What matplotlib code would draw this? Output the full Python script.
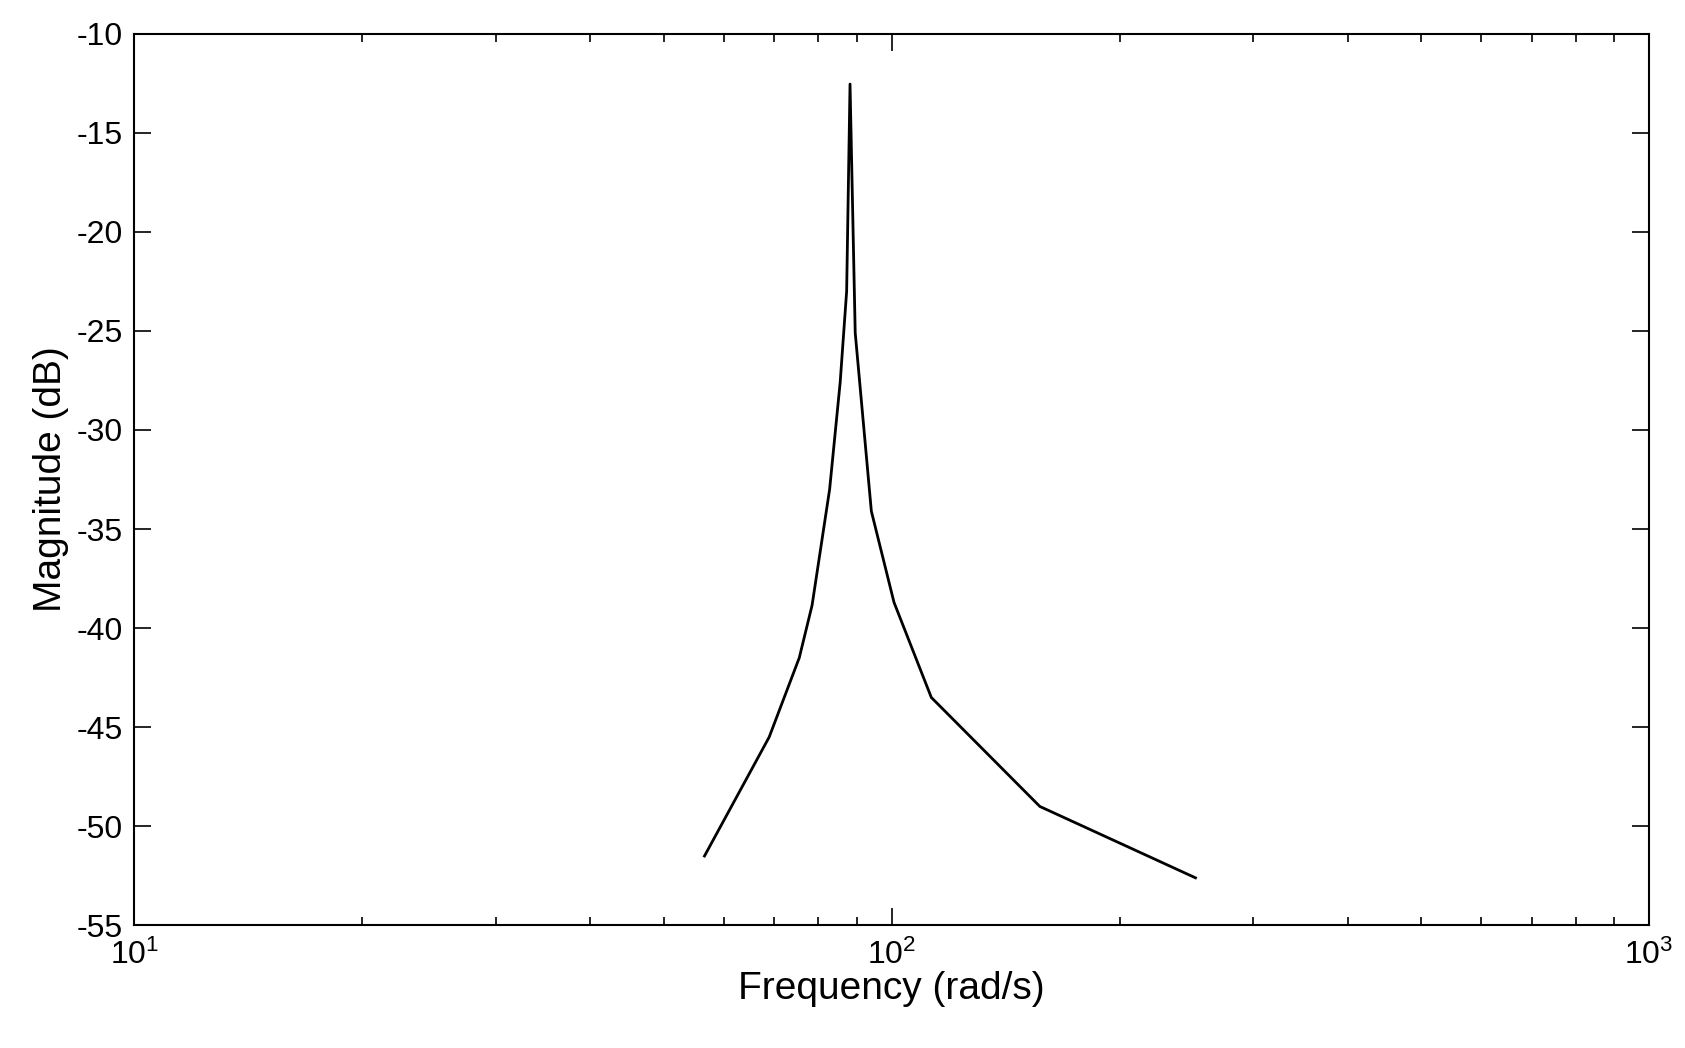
import matplotlib
matplotlib.use("Agg")
import matplotlib.pyplot as plt

# frequency response
freq = [56.6, 68.9, 75.5, 78.5, 82.8, 85.5, 87.2, 88.1, 89.5, 94.0, 100.7, 112.8, 156.9, 251.8]
mag_db = [-51.5, -45.5, -41.5, -38.85, -33.0, -27.6, -23.0, -12.55, -25.1, -34.1, -38.7, -43.5, -49.0, -52.6]

plt.rcParams['font.family'] = ['Liberation Sans', 'DejaVu Sans']
plt.rcParams['mathtext.fontset'] = 'custom'
plt.rcParams['mathtext.rm'] = 'Liberation Sans'
plt.rcParams['axes.unicode_minus'] = False

fig = plt.figure(figsize=(16.85, 10.48), dpi=100)
ax = fig.add_axes([0.0797, 0.117, 0.899, 0.851])
ax.plot(freq, mag_db, color='k', linewidth=2)
ax.set_xscale('log')
ax.set_xlim(10, 1000)
ax.set_ylim(-55, -10)
ax.set_yticks(range(-55, -9, 5))
ax.tick_params(which='both', direction='in', top=True, right=True, labelsize=23, width=1.2)
ax.tick_params(which='major', length=12)
ax.tick_params(which='minor', length=6)
ax.tick_params(axis='x', pad=10)
ax.tick_params(axis='y', pad=8)
for s in ax.spines.values():
    s.set_linewidth(1.5)
ax.set_xlabel('Frequency (rad/s)', fontsize=28, labelpad=0)
ax.set_ylabel('Magnitude (dB)', fontsize=28, labelpad=6)
fig.savefig('out.png', dpi=100)
